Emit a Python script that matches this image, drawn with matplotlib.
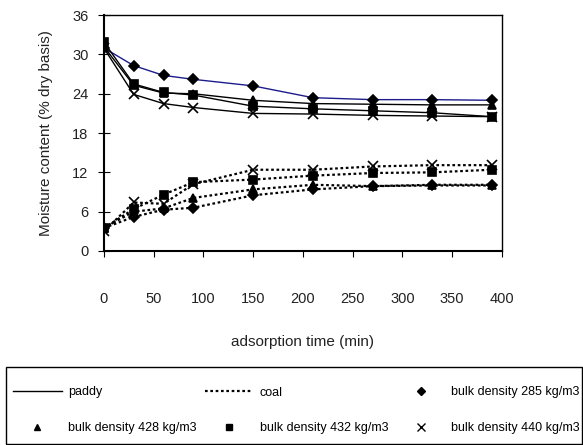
import matplotlib
matplotlib.use("Agg")
import matplotlib.pyplot as plt
from matplotlib.lines import Line2D
from matplotlib.patches import Rectangle

plt.rcParams['font.family'] = ['Liberation Sans', 'DejaVu Sans']

# ---------------- Data ----------------
time_min = [0, 30, 60, 90, 150, 210, 270, 330, 390]

# paddy (solid lines)
paddy_285 = [31.0, 28.3, 26.8, 26.2, 25.2, 23.4, 23.1, 23.1, 23.0]
paddy_428 = [31.2, 25.3, 24.1, 24.0, 23.0, 22.5, 22.4, 22.3, 22.3]
paddy_432 = [31.9, 25.5, 24.2, 23.8, 22.1, 21.7, 21.4, 21.1, 20.5]
paddy_440 = [31.0, 23.9, 22.5, 21.9, 21.0, 20.9, 20.7, 20.6, 20.5]

# coal (dotted lines)
coal_285 = [3.5, 5.2, 6.3, 6.6, 8.5, 9.4, 9.9, 10.0, 10.0]
coal_428 = [3.5, 6.0, 6.5, 8.1, 9.4, 10.1, 9.9, 10.1, 10.1]
coal_432 = [3.5, 6.4, 8.6, 10.5, 10.9, 11.5, 11.9, 12.0, 12.4]
coal_440 = [3.0, 7.4, 7.2, 10.2, 12.4, 12.4, 12.9, 13.1, 13.1]

densities = ['285', '428', '432', '440']
markers = ['D', '^', 's', 'x']
marker_sizes = [5, 6, 6, 7]
paddy_colors = ['#1c1c8c', 'black', 'black', 'black']

# ---------------- Plot ----------------
W, H = 583, 445
fig = plt.figure(figsize=(W / 100, H / 100), dpi=100)
ax = fig.add_axes([0.178, 0.436, 0.683, 0.530])

paddy = [paddy_285, paddy_428, paddy_432, paddy_440]
coal = [coal_285, coal_428, coal_432, coal_440]
for i in range(4):
    ax.plot(time_min, paddy[i], color=paddy_colors[i], lw=1.0,
            marker=markers[i], ms=marker_sizes[i], mfc='black', mec='black', mew=1.2)
    ax.plot(time_min, coal[i], color='black', lw=1.6, linestyle=(0, (1.2, 1.2)),
            marker=markers[i], ms=marker_sizes[i], mfc='black', mec='black', mew=1.2)

ax.set_xlim(0, 400)
ax.set_ylim(0, 36)
ax.set_xticks(range(0, 401, 50))
ax.set_yticks(range(0, 37, 6))
ax.tick_params(axis='x', direction='out', length=4.5, pad=25, labelsize=10.5,
               labelcolor='#222222')
ax.tick_params(axis='y', direction='inout', length=8, pad=7, labelsize=10.5,
               labelcolor='#222222')
for s in ax.spines.values():
    s.set_linewidth(1.0)
ax.spines['left'].set_linewidth(1.5)
ax.spines['bottom'].set_linewidth(1.5)

ax.set_xlabel('adsorption time (min)', fontsize=11, labelpad=21, color='#222222')
ax.set_ylabel('Moisture content (% dry basis)', fontsize=11, labelpad=14, color='#222222')

# ---------------- Legend ----------------
h_paddy = Line2D([], [], color='black', lw=1.0)
h_coal = Line2D([], [], color='black', lw=1.6, linestyle=(0, (1.2, 1.2)))
h_m = [Line2D([], [], color='black', linestyle='none', marker=markers[i],
              ms=marker_sizes[i] - 1, mfc='black', mew=1.0) for i in range(4)]
lab_m = ['bulk density %s kg/m3' % d for d in densities]

handles = [h_paddy, h_m[1], h_coal, h_m[2], h_m[0], h_m[3]]
labels = ['paddy', lab_m[1], 'coal', lab_m[2], lab_m[0], lab_m[3]]
leg = fig.legend(handles, labels, ncol=3, loc='upper left',
                 bbox_to_anchor=(10.5 / W, 1 - 384 / H),
                 fontsize=9, frameon=False,
                 handlelength=3.9, handletextpad=0.5, borderpad=0.2,
                 labelspacing=1.88, columnspacing=0.65, borderaxespad=0)

# legend box drawn separately
fig.patches.append(Rectangle((6 / W, 1 - 444 / H), 576 / W, 77 / H,
                             transform=fig.transFigure, fill=False,
                             edgecolor='black', lw=1.0))

fig.savefig('out.png', dpi=100)
